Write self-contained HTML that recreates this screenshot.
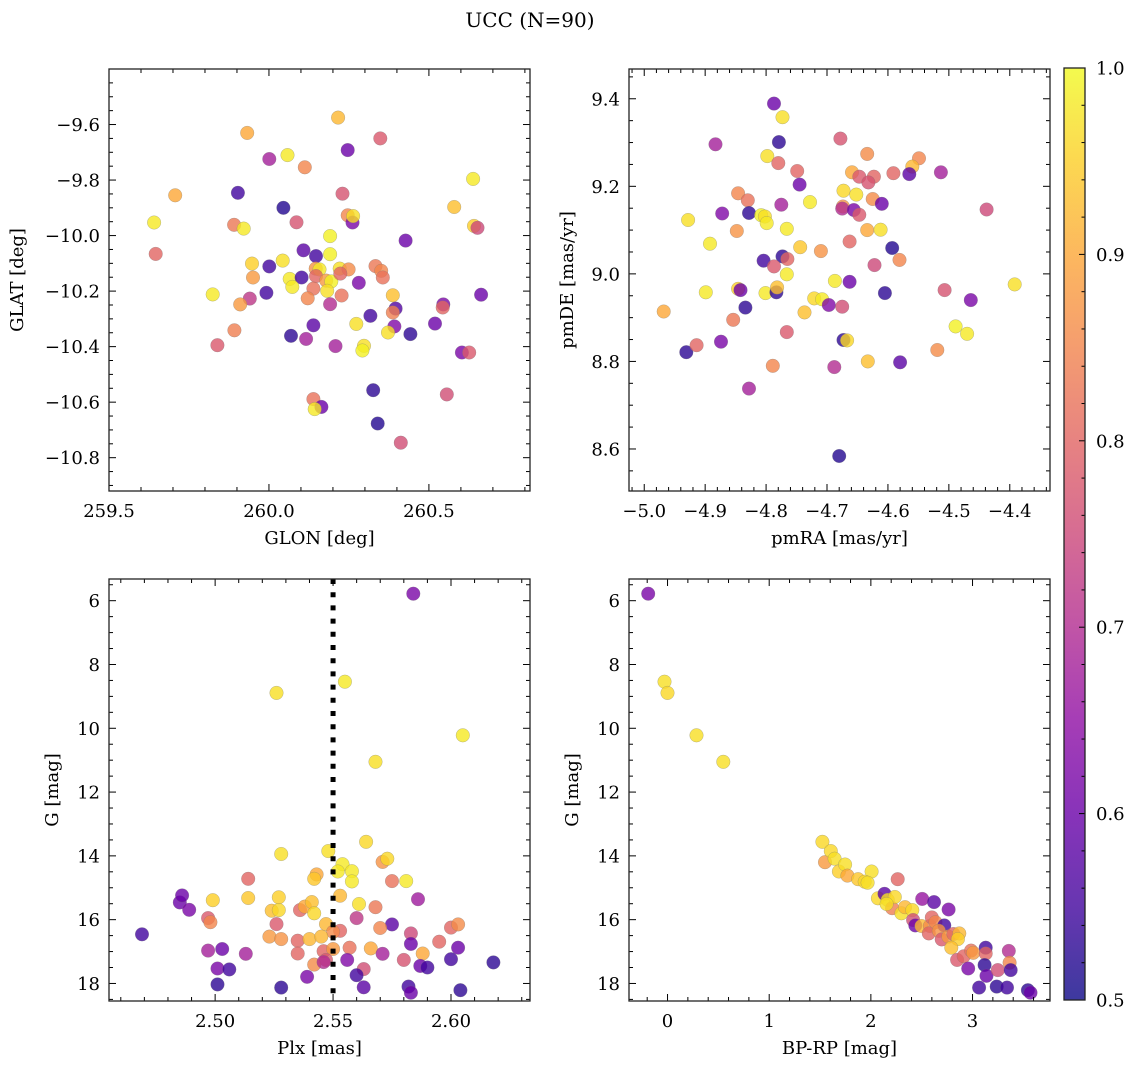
<!DOCTYPE html>
<html><head><meta charset="utf-8">
<style>
html,body{margin:0;padding:0;background:#fff;}
svg{display:block;font-family:"DejaVu Serif","Liberation Serif",serif;}
</style></head>
<body>
<svg id="fig" width="1136" height="1068" viewBox="0 0 1136 1068" xmlns="http://www.w3.org/2000/svg">
<defs>
<linearGradient id="plasma" x1="0" y1="1" x2="0" y2="0">
<stop offset="0" stop-color="#0d0887"/><stop offset="0.1" stop-color="#41049d"/><stop offset="0.2" stop-color="#6a00a8"/><stop offset="0.3" stop-color="#8f0da4"/><stop offset="0.4" stop-color="#b12a90"/><stop offset="0.5" stop-color="#cc4778"/><stop offset="0.6" stop-color="#e16462"/><stop offset="0.7" stop-color="#f2844b"/><stop offset="0.8" stop-color="#fca636"/><stop offset="0.9" stop-color="#fcce25"/><stop offset="1" stop-color="#f0f921"/>
</linearGradient>
</defs>
<text x="530" y="27" font-size="20" text-anchor="middle">UCC (N=90)</text>
</svg>
<script>
// ---- Panel 1 data: GLON / GLAT / probability
const glon1 = [260.216,259.932,260.348,260.246,260.001,260.058,260.112,260.638,259.707,259.903,260.230,260.045,260.579,259.641,259.891,259.921,260.086,260.246,260.261,260.263,260.641,260.652,260.427,260.191,259.646,260.108,260.147,260.191,259.947,260.001,260.043,260.146,260.158,260.221,260.249,260.333,260.351,259.950,260.065,260.102,260.147,260.179,260.195,260.223,260.281,260.356,259.824,259.992,260.073,260.139,260.182,260.227,260.387,260.663,259.940,260.121,260.191,260.396,260.545,260.543,259.910,260.387,260.273,260.139,260.317,260.519,260.392,259.892,260.069,260.116,260.372,260.442,259.839,260.208,260.297,260.292,260.603,260.626,260.326,260.556,260.139,260.164,260.143,260.340,260.412];
const glat1 = [-9.575,-9.630,-9.650,-9.692,-9.724,-9.710,-9.754,-9.796,-9.855,-9.846,-9.849,-9.900,-9.897,-9.953,-9.961,-9.975,-9.952,-9.927,-9.953,-9.930,-9.965,-9.972,-10.018,-10.002,-10.066,-10.053,-10.074,-10.067,-10.101,-10.111,-10.090,-10.119,-10.122,-10.119,-10.122,-10.110,-10.127,-10.151,-10.156,-10.151,-10.146,-10.162,-10.165,-10.137,-10.170,-10.151,-10.212,-10.206,-10.185,-10.191,-10.199,-10.216,-10.215,-10.213,-10.227,-10.226,-10.247,-10.263,-10.248,-10.259,-10.248,-10.277,-10.318,-10.323,-10.289,-10.317,-10.327,-10.341,-10.361,-10.372,-10.349,-10.355,-10.395,-10.398,-10.397,-10.414,-10.421,-10.421,-10.557,-10.572,-10.589,-10.617,-10.625,-10.677,-10.746];
const prob1 = [0.92,0.9,0.78,0.6,0.68,0.98,0.85,0.98,0.9,0.55,0.77,0.52,0.93,0.98,0.83,0.98,0.77,0.85,0.62,0.97,0.95,0.75,0.6,0.99,0.8,0.58,0.55,0.99,0.95,0.55,0.97,0.87,0.98,0.97,0.86,0.83,0.85,0.88,0.98,0.55,0.8,0.88,0.99,0.8,0.62,0.82,0.98,0.55,0.98,0.82,0.97,0.82,0.93,0.6,0.72,0.85,0.7,0.57,0.62,0.8,0.88,0.84,0.97,0.58,0.55,0.6,0.63,0.84,0.53,0.68,0.97,0.53,0.78,0.68,0.97,0.99,0.62,0.78,0.53,0.76,0.82,0.6,0.98,0.52,0.76];
// ---- Panel 2 data: pmRA / pmDE / probability
const pmra2 = [-4.787,-4.773,-4.883,-4.779,-4.678,-4.798,-4.780,-4.749,-4.634,-4.549,-4.560,-4.565,-4.591,-4.513,-4.659,-4.647,-4.623,-4.632,-4.745,-4.846,-4.830,-4.673,-4.652,-4.625,-4.610,-4.728,-4.775,-4.674,-4.675,-4.656,-4.647,-4.438,-4.928,-4.872,-4.828,-4.808,-4.802,-4.799,-4.848,-4.766,-4.634,-4.612,-4.892,-4.744,-4.710,-4.663,-4.593,-4.804,-4.773,-4.765,-4.787,-4.766,-4.622,-4.581,-4.392,-4.687,-4.663,-4.899,-4.846,-4.842,-4.801,-4.783,-4.782,-4.605,-4.507,-4.464,-4.968,-4.834,-4.737,-4.721,-4.708,-4.697,-4.675,-4.854,-4.766,-4.489,-4.470,-4.931,-4.914,-4.874,-4.673,-4.667,-4.789,-4.688,-4.633,-4.580,-4.519,-4.828,-4.680];
const pmde2 = [9.389,9.358,9.296,9.301,9.309,9.269,9.253,9.235,9.274,9.264,9.245,9.228,9.230,9.232,9.232,9.222,9.222,9.209,9.204,9.184,9.168,9.190,9.181,9.171,9.160,9.164,9.158,9.154,9.149,9.146,9.135,9.147,9.123,9.138,9.139,9.134,9.131,9.116,9.098,9.103,9.100,9.101,9.069,9.061,9.052,9.074,9.059,9.030,9.040,9.034,9.017,8.999,9.020,9.032,8.976,8.984,8.982,8.958,8.966,8.963,8.956,8.958,8.969,8.956,8.963,8.940,8.914,8.923,8.912,8.944,8.942,8.929,8.925,8.895,8.867,8.880,8.863,8.821,8.837,8.845,8.849,8.848,8.790,8.787,8.800,8.798,8.826,8.738,8.584];
const prob2 = [0.6,0.97,0.68,0.53,0.77,0.97,0.8,0.8,0.86,0.85,0.92,0.58,0.8,0.68,0.9,0.78,0.8,0.77,0.6,0.85,0.82,0.96,0.97,0.86,0.6,0.98,0.68,0.87,0.7,0.62,0.78,0.75,0.97,0.63,0.53,0.99,0.97,0.98,0.87,0.98,0.9,0.97,0.98,0.94,0.87,0.8,0.52,0.55,0.53,0.8,0.78,0.98,0.75,0.85,0.97,0.98,0.6,0.98,0.95,0.6,0.98,0.53,0.93,0.53,0.77,0.62,0.9,0.53,0.93,0.96,0.98,0.63,0.76,0.83,0.78,0.99,0.98,0.53,0.8,0.62,0.53,0.96,0.85,0.7,0.93,0.58,0.86,0.68,0.52];
// ---- Panel 3 data: Plx / G / probability
const plx3 = [2.584,2.526,2.555,2.605,2.568,2.564,2.548,2.528,2.571,2.573,2.554,2.552,2.558,2.558,2.543,2.542,2.514,2.575,2.581,2.485,2.486,2.489,2.499,2.514,2.527,2.553,2.561,2.586,2.524,2.527,2.536,2.538,2.541,2.542,2.568,2.497,2.498,2.560,2.575,2.526,2.547,2.553,2.550,2.570,2.600,2.603,2.469,2.523,2.528,2.535,2.540,2.545,2.583,2.595,2.497,2.503,2.513,2.535,2.546,2.550,2.557,2.566,2.571,2.583,2.588,2.603,2.547,2.542,2.546,2.556,2.580,2.600,2.618,2.501,2.506,2.563,2.587,2.590,2.539,2.560,2.501,2.528,2.563,2.582,2.583,2.604];
const gmag3 = [5.78,8.89,8.54,10.22,11.05,13.56,13.85,13.94,14.19,14.09,14.26,14.49,14.48,14.80,14.58,14.72,14.72,14.79,14.79,15.46,15.24,15.69,15.39,15.32,15.30,15.25,15.51,15.36,15.72,15.70,15.70,15.59,15.45,15.80,15.61,15.95,16.08,15.95,16.15,16.14,16.14,16.35,16.38,16.26,16.25,16.15,16.46,16.53,16.61,16.66,16.61,16.53,16.43,16.69,16.97,16.92,17.07,17.06,16.99,16.92,16.88,16.90,17.07,16.76,17.06,16.88,17.26,17.41,17.33,17.26,17.26,17.24,17.34,17.53,17.56,17.55,17.45,17.50,17.79,17.74,18.03,18.13,18.12,18.10,18.29,18.21];
const prob3 = [0.62,0.97,0.98,0.98,0.97,0.96,0.97,0.97,0.87,0.96,0.98,0.98,0.98,0.98,0.9,0.94,0.8,0.82,0.98,0.6,0.6,0.62,0.95,0.94,0.95,0.92,0.97,0.67,0.93,0.96,0.8,0.9,0.93,0.96,0.83,0.78,0.85,0.72,0.58,0.78,0.92,0.8,0.86,0.85,0.8,0.86,0.55,0.88,0.87,0.8,0.92,0.92,0.75,0.8,0.68,0.6,0.68,0.8,0.8,0.88,0.82,0.9,0.68,0.6,0.9,0.6,0.78,0.86,0.7,0.63,0.77,0.55,0.53,0.62,0.55,0.76,0.6,0.55,0.62,0.55,0.53,0.53,0.58,0.55,0.6,0.53];
const plxRef = 2.55;
// ---- Panel 4 data: BP-RP / G / probability
const bprp4 = [-0.19,-0.03,0.00,0.285,0.549,1.523,1.549,1.606,1.643,1.686,1.747,1.769,1.874,2.007,1.939,1.968,2.264,2.069,2.134,2.166,2.209,2.235,2.155,2.300,2.336,2.408,2.505,2.621,2.765,2.415,2.437,2.498,2.581,2.570,2.599,2.635,2.722,2.668,2.697,2.762,2.812,2.870,2.856,2.791,2.848,2.913,2.957,2.986,3.007,3.130,3.130,3.119,3.137,3.065,3.238,3.339,3.249,3.357,3.365,3.375,3.545,3.570];
const gmag4 = [5.78,8.54,8.89,10.22,11.05,13.56,14.20,13.85,14.09,14.49,14.27,14.62,14.73,14.49,14.81,14.84,14.73,15.33,15.19,15.38,15.64,15.29,15.51,15.80,15.61,15.70,15.35,15.45,15.68,16.01,16.18,16.20,16.20,16.43,15.93,16.08,16.18,16.35,16.62,16.53,16.45,16.43,16.61,16.88,17.26,17.15,17.53,16.97,17.04,16.88,17.06,17.42,17.76,18.13,18.10,18.13,17.58,16.98,17.35,17.58,18.21,18.29];
const prob4 = [0.62,0.97,0.96,0.97,0.97,0.96,0.88,0.96,0.97,0.95,0.97,0.9,0.94,0.97,0.96,0.97,0.8,0.96,0.58,0.97,0.84,0.96,0.97,0.97,0.92,0.96,0.66,0.58,0.62,0.76,0.6,0.92,0.86,0.8,0.8,0.85,0.55,0.87,0.78,0.88,0.8,0.92,0.95,0.93,0.78,0.8,0.62,0.82,0.88,0.55,0.8,0.53,0.6,0.55,0.53,0.55,0.76,0.7,0.85,0.55,0.53,0.6];
// ---- colorbar ticks
const cbTicks = [0.5,0.6,0.7,0.8,0.9,1.0];

const NS = "http://www.w3.org/2000/svg";
const svg = document.getElementById('fig');
function mk(tag, attrs, parent){ const e=document.createElementNS(NS,tag); for(const k in attrs) e.setAttribute(k,attrs[k]); (parent||svg).appendChild(e); return e; }

const stops=[[0,[13,8,135]],[0.1,[65,4,157]],[0.2,[106,0,168]],[0.3,[143,13,164]],[0.4,[177,42,144]],[0.5,[204,71,120]],[0.6,[225,100,98]],[0.7,[242,132,75]],[0.8,[252,166,54]],[0.9,[252,206,37]],[1,[240,249,33]]];
function plasma(c){ let t=Math.max(0,Math.min(1,(c-0.5)/0.5)); for(let i=0;i<stops.length-1;i++){ const a=stops[i],b=stops[i+1]; if(t<=b[0]){ const f=(t-a[0])/(b[0]-a[0]); const r=a[1].map((v,j)=>Math.round(v+(b[1][j]-v)*f)); return `rgb(${r[0]},${r[1]},${r[2]})`; } } return 'rgb(240,249,33)'; }
function fmt(v,d){ const s=Math.abs(v).toFixed(d); return (v<0?'\u2212':'')+s; }

const FS=18;
function panel(cfg){
  const g=mk('g',{});
  
  
  const {L,R,T,B}=cfg;
  const sx=v=>L+(v-cfg.xmin)/(cfg.xmax-cfg.xmin)*(R-L);
  const sy=v=>cfg.yinv? T+(v-cfg.ymin)/(cfg.ymax-cfg.ymin)*(B-T) : B-(v-cfg.ymin)/(cfg.ymax-cfg.ymin)*(B-T);
  const pg=mk('g',{},g);
  
  
  for(let i=0;i<cfg.xs.length;i++){
    const c=mk('circle',{cx:sx(cfg.xs[i]).toFixed(1),cy:sy(cfg.ys[i]).toFixed(1),r:6.8,fill:plasma(cfg.cs[i]),'fill-opacity':0.8,stroke:'#777','stroke-opacity':0.5,'stroke-width':0.5},pg);
    
    
  }
  if(cfg.vline!==undefined){
    const l=mk('line',{x1:sx(cfg.vline),x2:sx(cfg.vline),y1:T,y2:B,stroke:'#000','stroke-width':5,'stroke-dasharray':'5,8.2'},g);
    
    
  }
  const tg=mk('g',{stroke:'#000','stroke-width':1},g);
  
  
  const eps=1e-9;
  for(let v=Math.ceil(cfg.xmin/cfg.xminor-eps)*cfg.xminor; v<=cfg.xmax+eps; v+=cfg.xminor){
    const major=Math.abs(v/cfg.xmajor-Math.round(v/cfg.xmajor))<1e-6; const len=major?7:4; const x=sx(v);
    mk('line',{x1:x,x2:x,y1:B,y2:B-len},tg); mk('line',{x1:x,x2:x,y1:T,y2:T+len},tg);
  }
  for(let v=Math.ceil(cfg.ymin/cfg.yminor-eps)*cfg.yminor; v<=cfg.ymax+eps; v+=cfg.yminor){
    const major=Math.abs(v/cfg.ymajor-Math.round(v/cfg.ymajor))<1e-6; const len=major?7:4; const y=sy(v);
    mk('line',{x1:L,x2:L+len,y1:y,y2:y},tg); mk('line',{x1:R,x2:R-len,y1:y,y2:y},tg);
  }
  cfg.xlabels.forEach(v=>{ const t=mk('text',{x:sx(v),y:B+26,'font-size':FS,'text-anchor':'middle'},g); t.textContent=fmt(v,cfg.xdec);
      });
  cfg.ylabels.forEach(v=>{ const t=mk('text',{x:L-9,y:sy(v)+6.5,'font-size':FS,'text-anchor':'end'},g); t.textContent=fmt(v,cfg.ydec);
      });
  const xt=mk('text',{x:(L+R)/2,y:B+53,'font-size':FS,'text-anchor':'middle'},g); xt.textContent=cfg.xtitle;
   
  const yt=mk('text',{x:cfg.ytx,y:(T+B)/2,'font-size':FS,'text-anchor':'middle',transform:`rotate(-90 ${cfg.ytx} ${(T+B)/2})`},g); yt.textContent=cfg.ytitle;
   
  const fr=mk('rect',{x:L,y:T,width:R-L,height:B-T,fill:'none',stroke:'#222','stroke-width':1.3},g);
   
}

panel({name:'glon-glat-panel',L:109,R:530,T:69,B:491,xmin:259.5,xmax:260.816,ymin:-10.92,ymax:-9.40,yinv:false,
  xs:glon1,ys:glat1,cs:prob1,xmajor:0.5,xminor:0.1,ymajor:0.2,yminor:0.05,xlabels:[259.5,260.0,260.5],xdec:1,
  ylabels:[-9.6,-9.8,-10.0,-10.2,-10.4,-10.6,-10.8],ydec:1,xtitle:'GLON [deg]',ytitle:'GLAT [deg]',ytx:23});
panel({name:'proper-motion-panel',L:629,R:1050,T:69,B:491,xmin:-5.025,xmax:-4.334,ymin:8.504,ymax:9.468,yinv:false,
  xs:pmra2,ys:pmde2,cs:prob2,xmajor:0.1,xminor:0.02,ymajor:0.2,yminor:0.05,xlabels:[-5.0,-4.9,-4.8,-4.7,-4.6,-4.5,-4.4],xdec:1,
  ylabels:[8.6,8.8,9.0,9.2,9.4],ydec:1,xtitle:'pmRA [mas/yr]',ytitle:'pmDE [mas/yr]',ytx:573});
panel({name:'parallax-g-panel',L:109,R:530,T:579,B:1001,xmin:2.455,xmax:2.6335,ymin:5.32,ymax:18.55,yinv:true,
  xs:plx3,ys:gmag3,cs:prob3,vline:plxRef,xmajor:0.05,xminor:0.01,ymajor:2,yminor:0.5,xlabels:[2.50,2.55,2.60],xdec:2,
  ylabels:[6,8,10,12,14,16,18],ydec:0,xtitle:'Plx [mas]',ytitle:'G [mag]',ytx:58});
panel({name:'cmd-panel',L:629,R:1050,T:579,B:1001,xmin:-0.379,xmax:3.762,ymin:5.32,ymax:18.55,yinv:true,
  xs:bprp4,ys:gmag4,cs:prob4,xmajor:1,xminor:0.2,ymajor:2,yminor:0.5,xlabels:[0,1,2,3],xdec:0,
  ylabels:[6,8,10,12,14,16,18],ydec:0,xtitle:'BP-RP [mag]',ytitle:'G [mag]',ytx:578});

const cb=mk('g',{});


const cT=68, cB=1000, cL=1064, cR=1085;
const cy=v=>cB-(v-0.5)/0.5*(cB-cT);
mk('rect',{x:cL,y:cT,width:cR-cL,height:cB-cT,fill:'url(#plasma)','fill-opacity':0.8},cb);
for(let k=0;k<=25;k++){ const v=0.5+k*0.02; const y=cy(v); const major=(k%5===0); mk('line',{x1:cR,x2:cR-(major?6:3.5),y1:y,y2:y,stroke:'#000','stroke-width':1},cb); }
cbTicks.forEach(v=>{ const t=mk('text',{x:1096,y:cy(v)+6.5,'font-size':FS},cb); t.textContent=v.toFixed(1);
    });
mk('rect',{x:cL,y:cT,width:cR-cL,height:cB-cT,fill:'none',stroke:'#222','stroke-width':1.3},cb);
</script>
</body></html>
